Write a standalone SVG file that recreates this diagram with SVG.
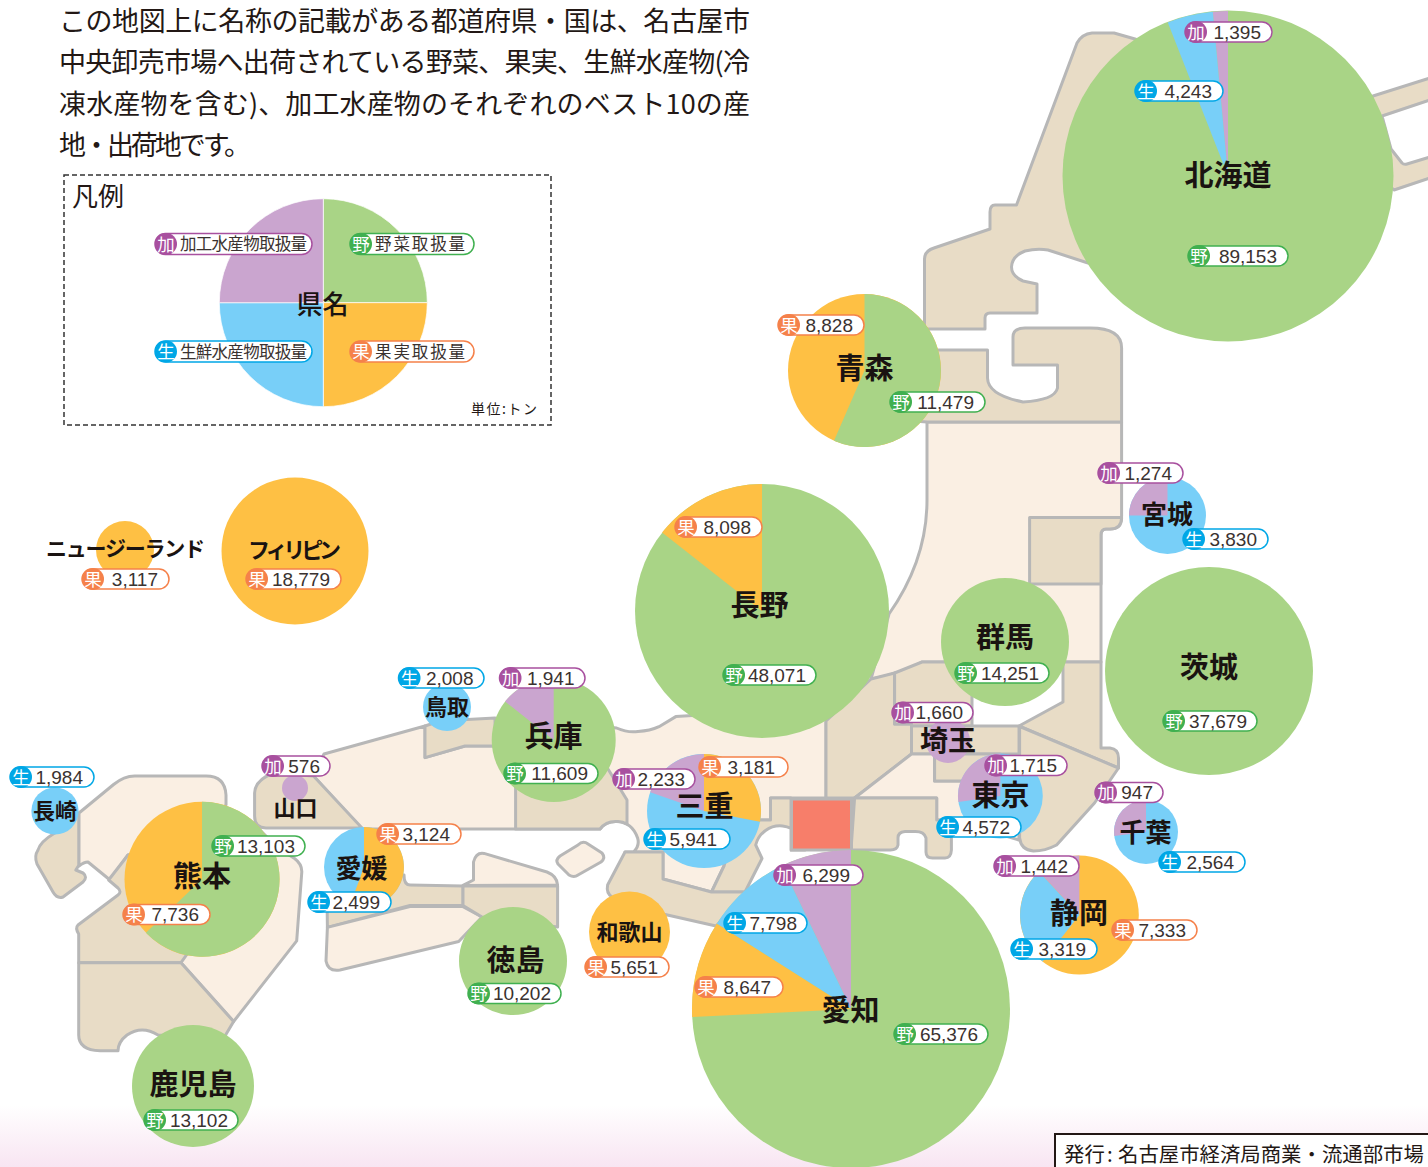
<svg xmlns="http://www.w3.org/2000/svg" width="1428" height="1167" viewBox="0 0 1428 1167">
<style>
text{font-family:"Noto Sans CJK JP","Noto Sans",sans-serif;fill:#231815}
.lt{fill:#faefe3;stroke:#b7b7b7;stroke-width:3;stroke-linejoin:round}
.dk{fill:#e8dcc6;stroke:#b7b7b7;stroke-width:3;stroke-linejoin:round}
.g{fill:#a9d486}.o{fill:#fec044}.b{fill:#78cff8}.p{fill:#caa5cf}
.name{font-weight:700;text-anchor:middle;dominant-baseline:central;fill:#1a1311}
.s29{font-size:29px}.s26{font-size:26px}.s22{font-size:22px}
.intro{font-size:27px}
.tag rect{fill:#fff;stroke-width:1.5}
.tag .num{font-family:"Liberation Sans",Arial,sans-serif;font-size:19px;text-anchor:end;dominant-baseline:central;fill:#3a3230}
.tag .txt{font-size:16.5px;dominant-baseline:central;fill:#3a3230}
.badge{font-size:17.5px;fill:#fff;text-anchor:middle;dominant-baseline:central}
.ka rect{stroke:#a8509f}.se rect{stroke:#00a7e6}.ya rect{stroke:#40b050}.ku rect{stroke:#f5814a}
</style>
<defs>
<linearGradient id="pink" x1="0" y1="0" x2="0" y2="1"><stop offset="0" stop-color="#fff"/><stop offset="1" stop-color="#f8e5f2"/></linearGradient>
<g id="bka"><circle cx="11" r="11" fill="#a8509f"/><text class="badge" x="11" y="-1">加</text></g>
<g id="bse"><circle cx="11" r="11" fill="#00a7e6"/><text class="badge" x="11" y="-1">生</text></g>
<g id="bya"><circle cx="11" r="11" fill="#40b050"/><text class="badge" x="11" y="-1">野</text></g>
<g id="bku"><circle cx="11" r="11" fill="#f5814a"/><text class="badge" x="11" y="-1">果</text></g>
</defs>
<rect x="0" y="1105" width="1428" height="62" fill="url(#pink)"/>

<g id="map">
<path class="lt" d="M927,422H1121.600V516Q1121.600,529 1110,529H1106Q1101,529 1101,535V662H922Q900,674 871,679L889,614Q927,560 927,500Z"/>
<path class="lt" d="M313.500,776L324,754L425,726V757.600L465,746H500L540,720L616.600,728Q628,733 638,731.400Q650,731 659,726.700L675.800,716.600L692.600,715.600L760,700L826,720V798H770.500V820H760L730,825L724,866L711.500,892L663,879V852H625H633.400Q640,846 637.600,838Q632,822 616.600,821.500Q606,821 600,829H362Z"/>
<path class="dk" d="M1135,39L1114,33H1092Q1082,34 1077,43L1016.500,205H995Q990,205 990,212V229L934,248Q924.500,251 924.500,259V329H985V318Q985,313 990,313H1037V284L1023,281Q1011.500,276 1011.500,267Q1012,256 1025,251Q1037,248 1048,250L1088,263L1240,260L1373,96L1430,78V100L1382,116L1391,149L1402,163Q1404,165 1407,164L1430,157V178L1394,190L1300,100Z"/>
<path class="dk" d="M900,350H987.500V378Q988,395 1023,402Q1055,400 1057.500,388V365H1013V337Q1013,328 1025,328H1090Q1121.600,328 1121.600,348V422H927L900,420Z"/>
<path class="dk" d="M1029.600,517.500H1121.600V518Q1121.600,529 1110,529H1106Q1101,529 1101,535V584H1029.600Z"/>
<path class="dk" d="M826,721L871,679L894.600,673V724H911.500V754L854.600,798H826Z"/>
<path class="dk" d="M894.600,673L922,662H972V726H911.500V724H894.600Z"/>
<path class="dk" d="M911.500,726H1019V754H911.500Z"/>
<path class="lt" d="M854.600,798L911.500,754H934.600V781H1019V840L951,820H936.700V798Z"/>
<path class="dk" d="M934.600,754H1000V781H934.600Z"/>
<path class="dk" d="M1019,726L1063,702V662H1101V748H1110Q1118.500,749 1118.500,758V768Z"/>
<path class="dk" d="M1021,727L1118.500,768L1094.500,803L1056.600,845Q1045,851 1033.500,851Q1021,850 1019.600,838V728Z"/>
<path class="dk" d="M854.600,798H936.700V820H951.400V850Q951,858 945,858H932.500Q926,858 926,852V838Q924,831.600 915.600,831.600H905Q898,832 898,838V845Q897,850 890.400,850H851Z"/>
<path class="dk" d="M770.500,798H791V850H805A25,25 0 0 0 755.700,845L762,858.500L745,892H711.500L724,866L735,825L760,820H770.500Z"/>
<rect x="791.500" y="799" width="60" height="51" fill="#f77e6a" stroke="#b7b7b7" stroke-width="3"/>
<path class="dk" d="M625,852H663V879L711.500,892H750L716,926L663,914L612,897Q606,893 607.600,885Z"/>
<path class="dk" d="M515.600,750V829H600Q606,821 616.600,821.500Q622,821 627,824V800L608,769Z"/>
<path class="dk" d="M254.600,793Q255,780 273.600,773L313.500,776L362,828H266Q254.600,828 254.600,816Z"/>
<path class="dk" d="M425,726L440,721L495,718V746H465L425,757.600Z"/>
<path class="lt" d="M463,885.400L473.500,880V862Q476,852 484,853.400L547,872Q557,876 557.600,885Z"/>
<path class="dk" d="M327,895L404,875Q404,885 410,885L463,886V905.500H410L327.400,927.400Z"/>
<path class="lt" d="M327.400,927.400L410,906.600H463L482,917L458.700,941.500L340,970Q328,972 326,961Z"/>
<path class="dk" d="M463,886H557.600V927L482,917L463,905.500Z"/>
<path class="lt" d="M578,845Q583,840 588,844L602,853Q606,858 601,862L578,875Q574,878 569,875L558,864Q555,860 560,856Z"/>
<path class="dk" d="M54.700,833Q40,842 38,850Q34,856 37,864L53,892Q57,899 63,897L83,882Q88,877 83,873L75.800,870L79,865V813Z"/>
<path class="lt" d="M79,813L113.600,784.500Q124,776 134.700,776H206Q225,776 226,795V805L200,830L128,855L110,880L88,862Q84,862 79,866Z"/>
<path class="lt" d="M250,820L278,848L294.600,858.500Q302,864 301.800,872L296.700,940.800L233.600,1021.500L181,962.700L200,900Z"/>
<path class="dk" d="M128,855L108.600,880L118,888Q122,892 118,895L78,925Q75,928 78.700,934V962.700H181L190,950L200,900Z"/>
<path class="dk" d="M78.700,962.700H181L233.600,1021.500L225,1036L158,1035Q142,1025 127,1035Q118,1042 118,1050.800H100Q78.700,1050 78.700,1035Z"/>
</g>

<g id="legend">
<rect x="64" y="175" width="487" height="250" fill="none" stroke="#333" stroke-width="1.5" stroke-dasharray="5 3"/>
<text class="s26" x="72" y="194.500" dominant-baseline="central">凡例</text>
<g stroke="#fff" stroke-width="0.7">
<path class="g" d="M323.300,302.700V198.700A104,104 0 0 1 427.300,302.700Z"/>
<path class="o" d="M323.300,302.700H427.300A104,104 0 0 1 323.300,406.700Z"/>
<path class="b" d="M323.300,302.700V406.700A104,104 0 0 1 219.300,302.700Z"/>
<path class="p" d="M323.300,302.700H219.300A104,104 0 0 1 323.300,198.700Z"/>
</g>
<text class="name s26" x="322.500" y="302" style="font-weight:500">県名</text>
<g class="tag ka" transform="translate(155,244)"><rect y="-10.500" width="157" height="21" rx="10.500"/><use href="#bka"/><text class="txt" x="25" y="-1" textLength="127">加工水産物取扱量</text></g>
<g class="tag ya" transform="translate(350,244)"><rect y="-10.500" width="124" height="21" rx="10.500"/><use href="#bya"/><text class="txt" x="25" y="-1" textLength="90">野菜取扱量</text></g>
<g class="tag se" transform="translate(155,351.500)"><rect y="-10.500" width="157" height="21" rx="10.500"/><use href="#bse"/><text class="txt" x="25" y="-1" textLength="127">生鮮水産物取扱量</text></g>
<g class="tag ku" transform="translate(350,351.500)"><rect y="-10.500" width="124" height="21" rx="10.500"/><use href="#bku"/><text class="txt" x="25" y="-1" textLength="90">果実取扱量</text></g>
<text x="471" y="408" font-size="14" dominant-baseline="central" textLength="66">単位:トン</text>
</g>

<g id="intro">
<text class="intro" x="59" y="19.500" dominant-baseline="central" textLength="691">この地図上に名称の記載がある都道府県・国は、名古屋市</text>
<text class="intro" x="59" y="60.500" dominant-baseline="central" textLength="691">中央卸売市場へ出荷されている野菜、果実、生鮮水産物(冷</text>
<text class="intro" x="59" y="102.500" dominant-baseline="central" textLength="691">凍水産物を含む)、加工水産物のそれぞれのベスト10の産</text>
<text class="intro" x="59" y="143.500" dominant-baseline="central" textLength="192">地・出荷地です。</text>
</g>

<g id="hokkaido"><circle class="g" cx="1228" cy="176" r="165.500"/><path class="p" d="M1228,176V11A165,165 0 0 0 1212.800,11.700Z"/><path class="b" d="M1228,176L1212.800,11.700A165,165 0 0 0 1167.800,22.400Z"/><text class="name s29" x="1228" y="172.500">北海道</text>
<g class="tag ka" transform="translate(1185,32)"><rect y="-10" width="87" height="20" rx="10"/><use href="#bka"/><text class="num" x="76">1,395</text></g>
<g class="tag se" transform="translate(1135,91)"><rect y="-10" width="88" height="20" rx="10"/><use href="#bse"/><text class="num" x="77">4,243</text></g>
<g class="tag ya" transform="translate(1188,256)"><rect y="-10" width="100" height="20" rx="10"/><use href="#bya"/><text class="num" x="89">89,153</text></g></g>

<g id="aomori"><circle class="o" cx="864.500" cy="370.500" r="76.500"/><path class="g" d="M864.500,370.500V294A76.500,76.500 0 1 1 834,440.700Z"/><text class="name s29" x="864.500" y="365.500">青森</text>
<g class="tag ku" transform="translate(778,325)"><rect y="-10" width="86" height="20" rx="10"/><use href="#bku"/><text class="num" x="75">8,828</text></g>
<g class="tag ya" transform="translate(890,402)"><rect y="-10" width="95" height="20" rx="10"/><use href="#bya"/><text class="num" x="84">11,479</text></g></g>

<g id="miyagi"><circle class="b" cx="1167.500" cy="515.500" r="38.500"/><path class="p" d="M1167.500,515.500V477A38.500,38.500 0 0 0 1129,515.500Z"/><text class="name s26" x="1167" y="512">宮城</text>
<g class="tag ka" transform="translate(1098,473)"><rect y="-10" width="85" height="20" rx="10"/><use href="#bka"/><text class="num" x="74">1,274</text></g>
<g class="tag se" transform="translate(1183,539)"><rect y="-10" width="85" height="20" rx="10"/><use href="#bse"/><text class="num" x="74">3,830</text></g></g>

<g id="nagano"><circle class="g" cx="762" cy="611" r="127"/><path class="o" d="M762,611V484A127,127 0 0 0 662.100,532.600Z"/><text class="name s29" x="759.500" y="603">長野</text>
<g class="tag ku" transform="translate(675,527)"><rect y="-10" width="87" height="20" rx="10"/><use href="#bku"/><text class="num" x="76">8,098</text></g>
<g class="tag ya" transform="translate(723,675)"><rect y="-10" width="93" height="20" rx="10"/><use href="#bya"/><text class="num" x="83">48,071</text></g></g>

<g id="gunma"><circle class="g" cx="1005" cy="642" r="64"/><text class="name s29" x="1005" y="635">群馬</text>
<g class="tag ya" transform="translate(955,673)"><rect y="-10" width="94" height="20" rx="10"/><use href="#bya"/><text class="num" x="84">14,251</text></g></g>

<g id="ibaraki"><circle class="g" cx="1209" cy="671" r="104"/><text class="name s29" x="1209" y="665">茨城</text>
<g class="tag ya" transform="translate(1163,721)"><rect y="-10" width="94" height="20" rx="10"/><use href="#bya"/><text class="num" x="84">37,679</text></g></g>

<g id="newzealand"><circle class="o" cx="125" cy="550" r="29"/><text class="name" font-size="21" x="125.500" y="547" textLength="159">ニュージーランド</text>
<g class="tag ku" transform="translate(82,579)"><rect y="-10" width="87" height="20" rx="10"/><use href="#bku"/><text class="num" x="76">3,117</text></g></g>

<g id="philippines"><circle class="o" cx="295" cy="551" r="73.500"/><text class="name s22" x="294.500" y="548" textLength="93">フィリピン</text>
<g class="tag ku" transform="translate(246,579)"><rect y="-10" width="95" height="20" rx="10"/><use href="#bku"/><text class="num" x="84">18,779</text></g></g>

<g id="tottori"><circle class="b" cx="447" cy="707" r="24"/><text class="name s22" x="447" y="705">鳥取</text>
<g class="tag se" transform="translate(398.500,678)"><rect y="-10" width="85.500" height="20" rx="10"/><use href="#bse"/><text class="num" x="75">2,008</text></g></g>

<g id="hyogo"><circle class="g" cx="553.700" cy="740" r="62"/><path class="p" d="M553.700,740V678A62,62 0 0 0 505.100,701.500Z"/><text class="name s29" x="553.500" y="734">兵庫</text>
<g class="tag ka" transform="translate(499.500,678)"><rect y="-10" width="85.500" height="20" rx="10"/><use href="#bka"/><text class="num" x="75">1,941</text></g>
<g class="tag ya" transform="translate(504,773.500)"><rect y="-10" width="94" height="20" rx="10"/><use href="#bya"/><text class="num" x="84">11,609</text></g></g>

<g id="yamaguchi"><circle class="p" cx="295" cy="788" r="13"/><text class="name s22" x="295.500" y="806">山口</text>
<g class="tag ka" transform="translate(262,766)"><rect y="-10" width="68" height="20" rx="10"/><use href="#bka"/><text class="num" x="58">576</text></g></g>

<g id="nagasaki"><circle class="b" cx="55" cy="811" r="23.600"/><text class="name s22" x="55" y="809">長崎</text>
<g class="tag se" transform="translate(10,777)"><rect y="-10" width="84" height="20" rx="10"/><use href="#bse"/><text class="num" x="73">1,984</text></g></g>

<g id="kumamoto"><circle class="o" cx="202" cy="879.300" r="77.500"/><path class="g" d="M202,879.300V801.800A77.500,77.500 0 1 1 145.900,932.700Z"/><text class="name s29" x="202" y="874">熊本</text>
<g class="tag ya" transform="translate(212,846)"><rect y="-10" width="93" height="20" rx="10"/><use href="#bya"/><text class="num" x="83">13,103</text></g>
<g class="tag ku" transform="translate(123,914.500)"><rect y="-10" width="87" height="20" rx="10"/><use href="#bku"/><text class="num" x="76">7,736</text></g></g>

<g id="kagoshima"><circle class="g" cx="193" cy="1086" r="61"/><text class="name s29" x="193" y="1082">鹿児島</text>
<g class="tag ya" transform="translate(144,1120)"><rect y="-10" width="94" height="20" rx="10"/><use href="#bya"/><text class="num" x="84">13,102</text></g></g>

<g id="ehime"><circle class="b" cx="364" cy="867" r="40"/><path class="o" d="M364,867V827A40,40 0 1 1 350.300,904.600Z"/><text class="name s26" x="361.500" y="866">愛媛</text>
<g class="tag ku" transform="translate(377,834)"><rect y="-10" width="84" height="20" rx="10"/><use href="#bku"/><text class="num" x="73">3,124</text></g>
<g class="tag se" transform="translate(308,902)"><rect y="-10" width="83" height="20" rx="10"/><use href="#bse"/><text class="num" x="72">2,499</text></g></g>

<g id="tokushima"><circle class="g" cx="513" cy="961" r="54"/><text class="name s29" x="515.500" y="958">徳島</text>
<g class="tag ya" transform="translate(468,993.500)"><rect y="-10" width="93" height="20" rx="10"/><use href="#bya"/><text class="num" x="83">10,202</text></g></g>

<g id="wakayama"><circle class="o" cx="629.500" cy="932" r="40.500"/><text class="name s22" x="629.500" y="930">和歌山</text>
<g class="tag ku" transform="translate(585,967)"><rect y="-10" width="84" height="20" rx="10"/><use href="#bku"/><text class="num" x="73">5,651</text></g></g>

<g id="aichi"><circle class="g" cx="851" cy="1009" r="159"/><path class="p" d="M851,1009V850A159,159 0 0 0 782,865.700Z"/><path class="b" d="M851,1009L782,865.700A159,159 0 0 0 716.800,923.800Z"/><path class="o" d="M851,1009L716.800,923.800A159,159 0 0 0 692.200,1017Z"/><text class="name s29" x="850.500" y="1008">愛知</text>
<g class="tag ka" transform="translate(774,875)"><rect y="-10" width="89" height="20" rx="10"/><use href="#bka"/><text class="num" x="76">6,299</text></g>
<g class="tag se" transform="translate(724,923)"><rect y="-10" width="83" height="20" rx="10"/><use href="#bse"/><text class="num" x="73">7,798</text></g>
<g class="tag ku" transform="translate(695,987)"><rect y="-10" width="88" height="20" rx="10"/><use href="#bku"/><text class="num" x="76">8,647</text></g>
<g class="tag ya" transform="translate(894,1034)"><rect y="-10" width="94" height="20" rx="10"/><use href="#bya"/><text class="num" x="84">65,376</text></g></g>

<g id="mie"><circle class="b" cx="704" cy="811" r="57"/><path class="o" d="M704,811V754A57,57 0 0 1 760,821.700Z"/><path class="p" d="M704,811L650.200,792.300A57,57 0 0 1 704,754Z"/><text class="name s29" x="704.500" y="804">三重</text>
<g class="tag ku" transform="translate(699,767)"><rect y="-10" width="89" height="20" rx="10"/><use href="#bku"/><text class="num" x="76">3,181</text></g>
<g class="tag ka" transform="translate(613,779)"><rect y="-10" width="82" height="20" rx="10"/><use href="#bka"/><text class="num" x="72">2,233</text></g>
<g class="tag se" transform="translate(644,839)"><rect y="-10" width="86" height="20" rx="10"/><use href="#bse"/><text class="num" x="73">5,941</text></g></g>

<g id="saitama"><circle class="p" cx="948" cy="741" r="22"/><text class="name" font-size="28" x="948" y="738.500">埼玉</text>
<g class="tag ka" transform="translate(892,712.500)"><rect y="-10" width="81" height="20" rx="10"/><use href="#bka"/><text class="num" x="71">1,660</text></g></g>

<g id="tokyo"><circle class="b" cx="1000.400" cy="796" r="42.400"/><path class="p" d="M1000.400,796V753.600A42.400,42.400 0 0 0 958.400,802Z"/><text class="name s29" x="1000.500" y="793">東京</text>
<g class="tag ka" transform="translate(985,765.500)"><rect y="-10" width="82" height="20" rx="10"/><use href="#bka"/><text class="num" x="72">1,715</text></g>
<g class="tag se" transform="translate(937,827)"><rect y="-10" width="84" height="20" rx="10"/><use href="#bse"/><text class="num" x="73">4,572</text></g></g>

<g id="chiba"><circle class="b" cx="1146" cy="832" r="32"/><path class="p" d="M1146,832V800A32,32 0 0 0 1114.200,835.900Z"/><text class="name s26" x="1145.500" y="830">千葉</text>
<g class="tag ka" transform="translate(1095,792.500)"><rect y="-10" width="68" height="20" rx="10"/><use href="#bka"/><text class="num" x="58">947</text></g>
<g class="tag se" transform="translate(1159,862)"><rect y="-10" width="86" height="20" rx="10"/><use href="#bse"/><text class="num" x="75">2,564</text></g></g>

<g id="shizuoka"><circle class="o" cx="1079.400" cy="915" r="59.400"/><path class="b" d="M1079.400,915L1042.600,961.600A59.400,59.400 0 0 1 1039,871.500Z"/><path class="p" d="M1079.400,915L1039,871.500A59.400,59.400 0 0 1 1079.400,855.600Z"/><text class="name s29" x="1079" y="911">静岡</text>
<g class="tag ka" transform="translate(994,866)"><rect y="-10" width="85" height="20" rx="10"/><use href="#bka"/><text class="num" x="74">1,442</text></g>
<g class="tag ku" transform="translate(1112,930)"><rect y="-10" width="85" height="20" rx="10"/><use href="#bku"/><text class="num" x="74">7,333</text></g>
<g class="tag se" transform="translate(1011,949)"><rect y="-10" width="86" height="20" rx="10"/><use href="#bse"/><text class="num" x="75">3,319</text></g></g>

<g id="publisher"><rect x="1055" y="1134" width="380" height="40" fill="#fff" stroke="#231815" stroke-width="2"/>
<text font-size="20.400" y="1153" dominant-baseline="central"><tspan x="1064">発行</tspan><tspan x="1107">:</tspan><tspan x="1118">名古屋市経済局商業・流通部市場</tspan></text></g>
</svg>
